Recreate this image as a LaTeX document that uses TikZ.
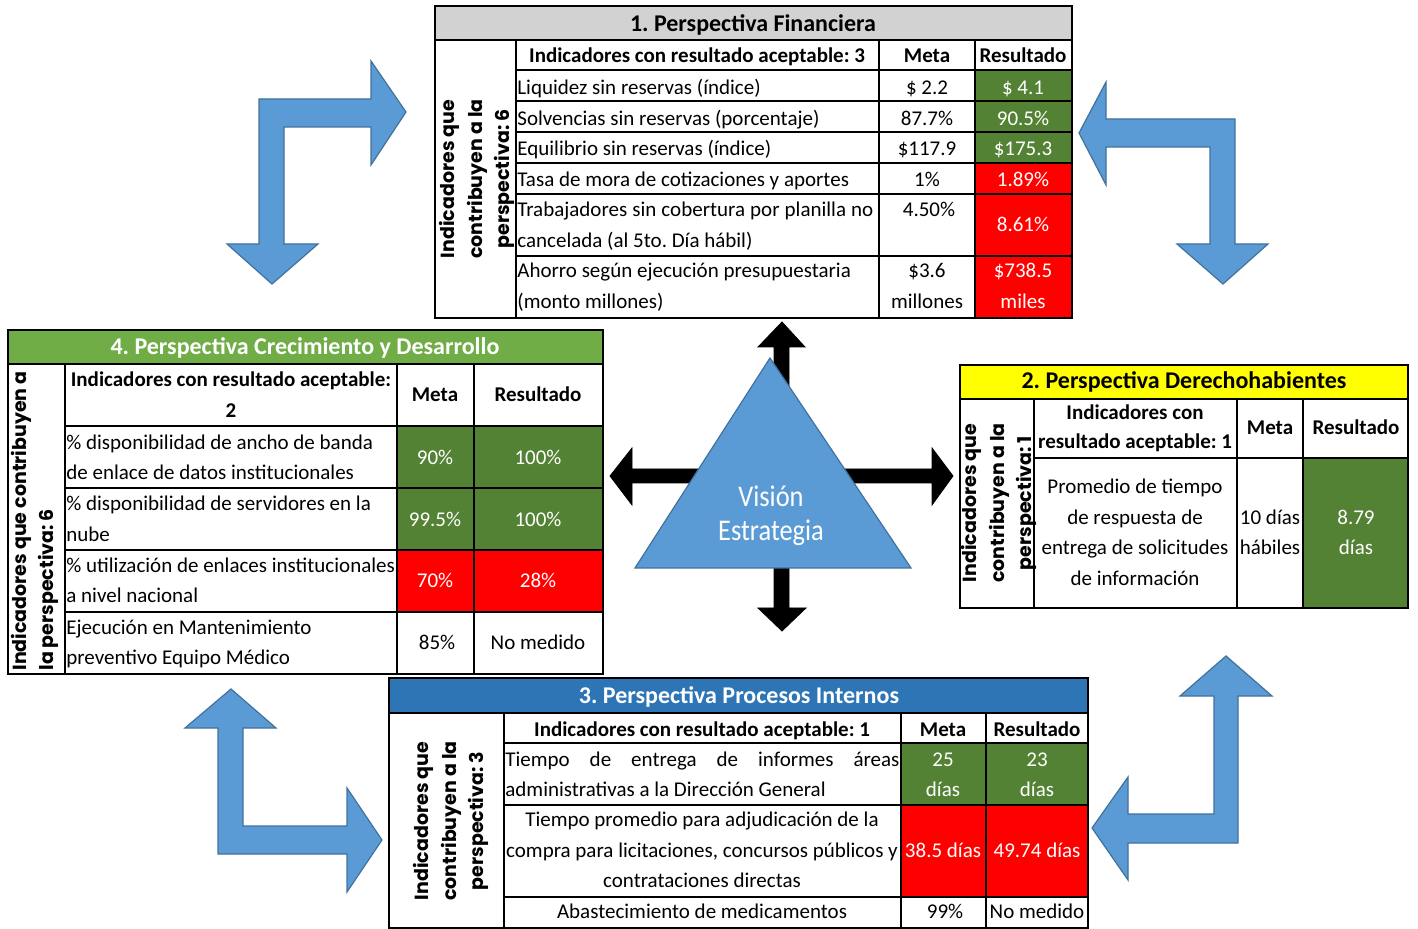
\documentclass[tikz,border=0pt]{standalone}
\usepackage{fontspec}
\setmainfont{Carlito}
\newfontfamily\labfont{Poppins}
\newfontfamily\visfont{Carlito}[FakeStretch=0.88]
\definecolor{ttlgray}{RGB}{210,210,210}
\definecolor{ttlgreen}{RGB}{112,173,71}
\definecolor{ttlblue}{RGB}{46,117,182}
\definecolor{ttlyellow}{RGB}{255,255,0}
\definecolor{okgreen}{RGB}{84,130,53}
\definecolor{badred}{RGB}{255,0,0}
\definecolor{arrowblue}{RGB}{91,155,213}
\definecolor{arrowedge}{RGB}{65,113,156}
\frenchspacing
\begin{document}
\begin{tikzpicture}[x=0.5pt,y=-0.5pt,
  cellb/.style={draw=black,line width=0.9pt},
  tx/.style={inner sep=0pt,font=\fontsize{10.5}{15}\selectfont},
  txl/.style={tx,anchor=base west},
  txc/.style={tx,anchor=base},
  wt/.style={text=white},
  hd/.style={inner sep=0pt,anchor=base,font=\bfseries\fontsize{10.5}{15}\selectfont},
  ttl/.style={inner sep=0pt,anchor=base,font=\bfseries\fontsize{12}{14}\selectfont},
  vlab/.style={inner sep=0pt,rotate=90,font=\labfont\bfseries\fontsize{9.5}{13.6}\selectfont},
  barrow/.style={fill=arrowblue,draw=arrowedge,line width=0.6pt},
  kcross/.style={fill=black,draw=black,line width=0.4pt},
]
\useasboundingbox (0,0) rectangle (1418,929);
\fill[white] (0,0) rectangle (1418,929);

% ---------- blue bent arrows ----------
\draw[barrow] (259,244) -- (227,244) -- (272,284) -- (318,244) -- (284,244) -- (284,127) -- (371,127) -- (371,165) -- (406,112) -- (371,61) -- (371,99) -- (259,99) -- cycle;
\draw[barrow] (1235,244) -- (1268,244) -- (1223,284) -- (1177,244) -- (1210,244) -- (1210,147) -- (1106,147) -- (1106,185) -- (1079,133) -- (1106,82) -- (1106,119) -- (1235,119) -- cycle;
\draw[barrow] (218,728) -- (185,728) -- (231,689) -- (276,728) -- (243,728) -- (243,826) -- (347,826) -- (347,788) -- (382,840) -- (347,892) -- (347,854) -- (218,854) -- cycle;
\draw[barrow] (1214,696) -- (1180,696) -- (1226,656) -- (1272,696) -- (1238,696) -- (1238,814) -- (1238,843) -- (1128,843) -- (1128,880) -- (1092,828) -- (1128,777) -- (1128,814) -- (1214,814) -- cycle;

% ---------- black cross ----------
\draw[kcross] (782,322) -- (805,347) -- (789,347) -- (789,469) -- (932,469) -- (932,448) -- (953,476) -- (932,505) -- (932,483) -- (789,483) -- (789,608) -- (806,608) -- (782,631) -- (758,608) -- (774,608) -- (774,483) -- (632,483) -- (632,505) -- (610,476) -- (632,448) -- (632,469) -- (774,469) -- (774,347) -- (758,347) -- cycle;

% ---------- triangle ----------
\draw[barrow] (770,358) -- (911,568) -- (635,568) -- cycle;
\node[inner sep=0pt,anchor=base,text=white,font=\visfont\fontsize{15}{18}\selectfont] (vis1) at (771,507) {Visión};
\node[inner sep=0pt,anchor=base,text=white,font=\visfont\fontsize{15}{18}\selectfont] (vis2) at (771,541) {Estrategia};

% ================= Table 1 =================
\fill[ttlgray] (435,6) rectangle (1072,40);
\fill[okgreen] (975,70) rectangle (1072,163);
\fill[badred] (975,163) rectangle (1072,318);
\draw[cellb] (435,6) rectangle (1072,318);
\draw[cellb] (435,40) -- (1072,40);
\draw[cellb] (516,40) -- (516,318);
\draw[cellb] (879,40) -- (879,318);
\draw[cellb] (975,40) -- (975,318);
\foreach \yy in {70,101,132,163,194,256} \draw[cellb] (516,\yy) -- (1072,\yy);
\node[ttl] (t1title) at (753,32) {1. Perspectiva Financiera};
\node[vlab,align=center] (t1lab) at (477,179) {Indicadores que\\contribuyen a la\\perspectiva:\ 6};
\node[hd] (t1h1) at (697,63) {Indicadores con resultado aceptable: 3};
\node[hd] (t1h2) at (927,63) {Meta};
\node[hd] (t1h3) at (1023,63) {Resultado};
\node[txl] (t1r1) at (517,95) {Liquidez sin reservas (índice)};
\node[txc] (t1m1) at (927,95) {\$ 2.2};
\node[txc,wt] (t1v1) at (1023,95) {\$ 4.1};
\node[txl] (t1r2) at (517,126) {Solvencias sin reservas (porcentaje)};
\node[txc] (t1m2) at (927,126) {87.7\%};
\node[txc,wt] (t1v2) at (1023,126) {90.5\%};
\node[txl] (t1r3) at (517,156) {Equilibrio sin reservas (índice)};
\node[txc] (t1m3) at (927,156) {\$117.9};
\node[txc,wt] (t1v3) at (1023,156) {\$175.3};
\node[txl] (t1r4) at (517,187) {Tasa de mora de cotizaciones y aportes};
\node[txc] (t1m4) at (927,187) {1\%};
\node[txc,wt] (t1v4) at (1023,187) {1.89\%};
\node[txl] (t1r5a) at (517,217) {\makebox[178pt][s]{Trabajadores sin cobertura por planilla no}};
\node[txl] (t1r5b) at (517,248) {cancelada (al 5to. Día hábil)};
\node[txc] (t1m5) at (929,217) {4.50\%};
\node[txc,wt] (t1v5) at (1023,232) {8.61\%};
\node[txl] (t1r6a) at (517,278) {Ahorro según ejecución presupuestaria};
\node[txl] (t1r6b) at (517,309) {(monto millones)};
\node[txc] (t1m6a) at (927,278) {\$3.6};
\node[txc] (t1m6b) at (927,309) {millones};
\node[txc,wt] (t1v6a) at (1023,278) {\$738.5};
\node[txc,wt] (t1v6b) at (1023,309) {miles};

% ================= Table 4 =================
\fill[ttlgreen] (8,330) rectangle (603,364);
\fill[okgreen] (397,426) rectangle (603,550);
\fill[badred] (397,550) rectangle (603,612);
\draw[cellb] (8,330) rectangle (603,674);
\draw[cellb] (8,364) -- (603,364);
\foreach \xx in {65,397,474} \draw[cellb] (\xx,364) -- (\xx,674);
\foreach \yy in {426,488,550,612} \draw[cellb] (65,\yy) -- (603,\yy);
\node[ttl,text=white] (t4title) at (305,355) {4. Perspectiva Crecimiento y Desarrollo};
\node[vlab,align=left,anchor=west] (t4lab) at (35,671) {Indicadores que contribuyen a\\la perspectiva:\ 6};
\node[hd] (t4h1a) at (231,387) {Indicadores con resultado aceptable:};
\node[hd] (t4h1b) at (231,418) {2};
\node[hd] (t4h2) at (435,402) {Meta};
\node[hd] (t4h3) at (538,402) {Resultado};
\node[txl] (t4r1a) at (66,450) {\% disponibilidad de ancho de banda};
\node[txl] (t4r1b) at (66,480) {de enlace de datos institucionales};
\node[txc,wt] (t4m1) at (435,465) {90\%};
\node[txc,wt] (t4v1) at (538,465) {100\%};
\node[txl] (t4r2a) at (66,511) {\% disponibilidad de servidores en la};
\node[txl] (t4r2b) at (66,542) {nube};
\node[txc,wt] (t4m2) at (435,527) {99.5\%};
\node[txc,wt] (t4v2) at (538,527) {100\%};
\node[txl] (t4r3a) at (66,573) {\% utilización de enlaces institucionales};
\node[txl] (t4r3b) at (66,603) {a nivel nacional};
\node[txc,wt] (t4m3) at (435,588) {70\%};
\node[txc,wt] (t4v3) at (538,588) {28\%};
\node[txl] (t4r4a) at (66,635) {Ejecución en Mantenimiento};
\node[txl] (t4r4b) at (66,665) {preventivo Equipo Médico};
\node[txc] (t4m4) at (437,650) {85\%};
\node[txc] (t4v4) at (538,650) {No medido};

% ================= Table 2 =================
\fill[ttlyellow] (960,365) rectangle (1408,399);
\fill[okgreen] (1303,458) rectangle (1408,608);
\draw[cellb] (960,365) rectangle (1408,608);
\draw[cellb] (960,399) -- (1408,399);
\foreach \xx in {1034,1237,1303} \draw[cellb] (\xx,399) -- (\xx,608);
\draw[cellb] (1034,458) -- (1408,458);
\node[ttl] (t2title) at (1184,389) {2. Perspectiva Derechohabientes};
\node[vlab,align=center] (t2lab) at (999,503) {Indicadores que\\contribuyen a la\\perspectiva:\ 1};
\node[hd] (t2h1a) at (1135,420) {Indicadores con};
\node[hd] (t2h1b) at (1135,449) {resultado aceptable: 1};
\node[hd] (t2h2) at (1270,435) {Meta};
\node[hd] (t2h3) at (1356,435) {Resultado};
\node[txc] (t2r1a) at (1135,494) {Promedio de tiempo};
\node[txc] (t2r1b) at (1135,525) {de respuesta de};
\node[txc] (t2r1c) at (1135,555) {entrega de solicitudes};
\node[txc] (t2r1d) at (1135,586) {de información};
\node[txc] (t2m1a) at (1270,525) {10 días};
\node[txc] (t2m1b) at (1270,555) {hábiles};
\node[txc,wt] (t2v1a) at (1356,525) {8.79};
\node[txc,wt] (t2v1b) at (1356,555) {días};

% ================= Table 3 =================
\fill[ttlblue] (389,678) rectangle (1088,713);
\fill[okgreen] (901,743) rectangle (1088,805);
\fill[badred] (901,805) rectangle (1088,897);
\draw[cellb] (389,678) rectangle (1088,928);
\draw[cellb] (389,713) -- (1088,713);
\foreach \xx in {504,901,986} \draw[cellb] (\xx,713) -- (\xx,928);
\foreach \yy in {743,805,897} \draw[cellb] (504,\yy) -- (1088,\yy);
\node[ttl,text=white] (t3title) at (739,704) {3. Perspectiva Procesos Internos};
\node[vlab,align=center] (t3lab) at (451,821) {Indicadores que\\contribuyen a la\\perspectiva:\ 3};
\node[hd] (t3h1) at (702,736) {Indicadores con resultado aceptable: 1};
\node[hd] (t3h2) at (943,736) {Meta};
\node[hd] (t3h3) at (1037,736) {Resultado};
\node[txl] (t3r1a) at (505,766) {\makebox[197pt][s]{Tiempo de entrega de informes áreas}};
\node[txl] (t3r1b) at (505,796) {administrativas a la Dirección General};
\node[txc,wt] (t3m1a) at (943,766) {25};
\node[txc,wt] (t3m1b) at (943,796) {días};
\node[txc,wt] (t3v1a) at (1037,766) {23};
\node[txc,wt] (t3v1b) at (1037,796) {días};
\node[txc] (t3r2a) at (702,826) {Tiempo promedio para adjudicación de la};
\node[txc] (t3r2b) at (702,857) {compra para licitaciones, concursos públicos y};
\node[txc] (t3r2c) at (702,887) {contrataciones directas};
\node[txc,wt] (t3m2) at (943,857) {38.5 días};
\node[txc,wt] (t3v2) at (1037,857) {49.74 días};
\node[txc] (t3r3) at (702,918) {Abastecimiento de medicamentos};
\node[txc] (t3m3) at (945,918) {99\%};
\node[txc] (t3v3) at (1037,918) {No medido};
\end{tikzpicture}
\end{document}
